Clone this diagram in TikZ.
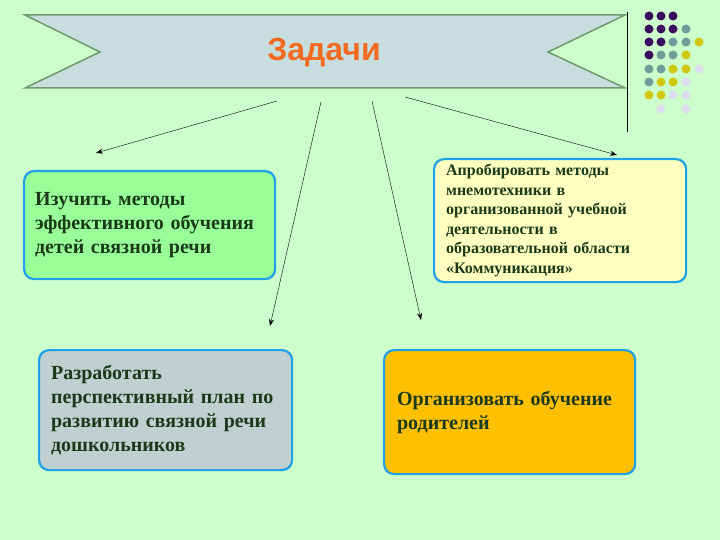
\documentclass[tikz,border=0pt]{standalone}
\usepackage{fontspec}
\setmainfont{Liberation Serif}
\newfontfamily\titlefont{Liberation Sans}
\usetikzlibrary{arrows.meta}
\definecolor{bg}{HTML}{CCFFCC}
\definecolor{ban}{HTML}{C8DEDE}
\definecolor{banb}{HTML}{6E9A6E}
\definecolor{bblue}{HTML}{1FA0E8}
\definecolor{txt}{HTML}{1A3A1A}
\definecolor{ttl}{HTML}{F26A21}
\definecolor{cP}{HTML}{3A0B5E}
\definecolor{cT}{HTML}{6E9E9A}
\definecolor{cY}{HTML}{D0C810}
\definecolor{cL}{HTML}{DCDCEE}
\tikzset{
 taskbox/.style={draw=bblue,line width=2.2pt,rounded corners=10pt,anchor=north west,
   inner sep=0pt,text=txt,font=\bfseries,align=left},
 arr/.style={-{Stealth[length=7pt,width=5pt]},thin,black},
 dot/.style={circle,fill=#1,inner sep=0pt,minimum size=9pt}
}
\begin{document}
\begin{tikzpicture}[x=1pt,y=-1pt]
\fill[bg] (0,0) rectangle (720,540);
\useasboundingbox (0,0) rectangle (720,540);
\draw[banb,line width=1.5pt,fill=ban] (25,15) -- (625,15) -- (548,52) -- (625,88) -- (25,88) -- (100,52) -- cycle;
\node[font=\titlefont\bfseries\fontsize{32}{36}\selectfont,text=ttl] (t) at (324,53) {Задачи};
\draw (627,12) -- (627,132);
\foreach \x/\y/\c in {649/16/cP,661/16/cP,673/16/cP,
 649/29/cP,661/29/cP,673/29/cP,686/29/cT,
 649/42/cP,661/42/cP,673/42/cT,686/42/cT,699/42/cY,
 649/55/cP,661/55/cT,673/55/cT,686/55/cY,
 649/69/cT,661/69/cT,673/69/cY,686/69/cY,699/69/cL,
 649/82/cT,661/82/cY,673/82/cY,686/82/cL,
 649/95/cY,661/95/cY,673/95/cL,686/95/cL,
 661/109/cL,686/109/cL}
 \node[dot=\c] at (\x,\y) {};
\node[taskbox,fill={rgb,255:red,153;green,255;blue,153},minimum width=251pt,minimum height=108pt,
  text width=229pt,inner xsep=11pt,font=\bfseries\fontsize{20}{24}\selectfont] (b1) at (23,170) {Изучить методы\\ эффективного обучения\\ детей связной речи};
\node[taskbox,fill={rgb,255:red,255;green,255;blue,192},minimum width=252pt,minimum height=123pt,
  text width=228pt,inner xsep=12pt,font=\bfseries\fontsize{16}{19.5}\selectfont] (b2) at (433,158) {Апробировать методы\\ мнемотехники в\\ организованной учебной\\ деятельности в\\ образовательной области\\ «Коммуникация»};
\node[taskbox,fill={rgb,255:red,192;green,208;blue,208},minimum width=253pt,minimum height=120pt,
  text width=229pt,inner xsep=12pt,font=\bfseries\fontsize{20}{24}\selectfont] (b3) at (38,349) {Разработать\\ перспективный план по\\ развитию связной речи\\ дошкольников};
\node[taskbox,fill={rgb,255:red,255;green,192;blue,0},minimum width=251pt,minimum height=124pt,
  text width=225pt,inner xsep=13pt,font=\bfseries\fontsize{20}{24}\selectfont] (b4) at (383,349) {Организовать обучение\\ родителей};
\coordinate (s1) at (277,101); \coordinate (e1) at (96,153);
\coordinate (s2) at (321,102); \coordinate (e2) at (270,326);
\coordinate (s3) at (372,101); \coordinate (e3) at (421,320);
\coordinate (s4) at (405,97); \coordinate (e4) at (617,155);
\draw[arr] (s1) -- (e1);
\draw[arr] (s2) -- (e2);
\draw[arr] (s3) -- (e3);
\draw[arr] (s4) -- (e4);
\end{tikzpicture}
\end{document}
